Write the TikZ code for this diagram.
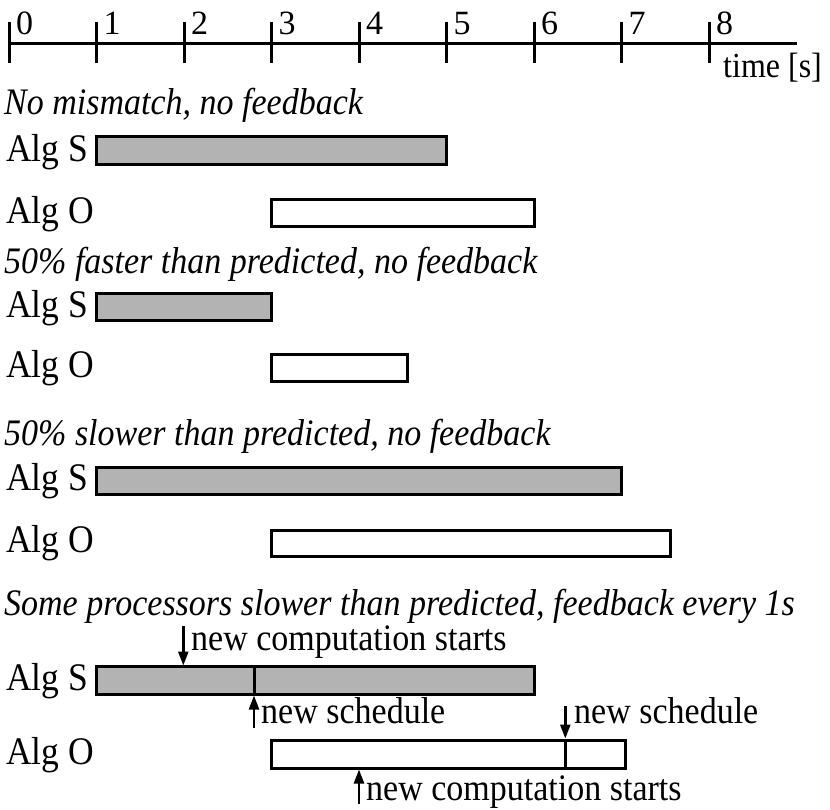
\documentclass[tikz,border=0pt]{standalone}
\usepackage{fontspec}
\usepackage{graphicx}
\setmainfont{Liberation Serif}
\usetikzlibrary{arrows.meta}
\definecolor{barfill}{RGB}{179,179,179}
\newcommand{\tx}[1]{\scalebox{1}[1.1]{#1}}
\begin{document}
\begin{tikzpicture}[x=1pt,y=-1pt,
  bx/.style={draw=black,line width=3pt},
  sbx/.style={bx,fill=barfill},
  obx/.style={bx,fill=white},
  lbl/.style={anchor=base west,inner sep=0pt,font=\fontsize{34}{40}\selectfont},
  alg/.style={anchor=base west,inner sep=0pt,font=\fontsize{35.5}{40}\selectfont},
  ttl/.style={anchor=base west,inner sep=0pt,font=\fontsize{34}{40}\selectfont\itshape},
  tck/.style={anchor=base west,inner sep=0pt,font=\fontsize{34}{40}\selectfont},
  unt/.style={anchor=base west,inner sep=0pt,font=\fontsize{32}{38}\selectfont},
  ann/.style={line width=2.5pt,-{Triangle[length=14pt,width=10pt]}},
  axl/.style={line width=3pt},
]
\useasboundingbox (0,0) rectangle (830,809);
% time axis
\coordinate (ax0) at (9,43);
\coordinate (ax1) at (797,43);
\draw[axl] (ax0) -- (ax1);
\foreach \i in {0,...,8}{
  \coordinate (tk\i a) at ({9+87.5*\i},22);
  \coordinate (tk\i b) at ({9+87.5*\i},63);
  \draw[axl] (tk\i a) -- (tk\i b);
  \node[tck] (t\i) at ({16+87.5*\i},34) {\i};
}
\node[unt] (unit) at (723,77) {\tx{time [s]}};

% scenario 1
\node[ttl] (h1) at (4,114) {\tx{No mismatch, no feedback}};
\node[alg] (s1) at (6,161) {\tx{Alg S}};
\draw[sbx] (96.5,136.7) rectangle (446.5,164);
\node[alg] (o1) at (6,223) {\tx{Alg O}};
\draw[obx] (271.5,199) rectangle (534,226.7);

% scenario 2
\node[ttl] (h2) at (4,273) {\tx{50\% faster than predicted, no feedback}};
\node[alg] (s2) at (6,317) {\tx{Alg S}};
\draw[sbx] (96.5,293) rectangle (271.5,320.7);
\node[alg] (o2) at (6,377) {\tx{Alg O}};
\draw[obx] (271.5,354.3) rectangle (407.3,381);

% scenario 3
\node[ttl] (h3) at (4,445) {\tx{50\% slower than predicted, no feedback}};
\node[alg] (s3) at (6,490) {\tx{Alg S}};
\draw[sbx] (96.5,467.3) rectangle (621.5,494);
\node[alg] (o3) at (6,552) {\tx{Alg O}};
\draw[obx] (271.5,530) rectangle (670,556.7);

% scenario 4
\node[ttl] (h4) at (4,615) {\tx{Some processors slower than predicted, feedback every 1s}};
\node[alg] (s4) at (6,690) {\tx{Alg S}};
\draw[sbx] (96.5,666.7) rectangle (534,694);
\coordinate (d1a) at (254,666.7);
\coordinate (d1b) at (254,694);
\draw[bx] (d1a) -- (d1b);
\node[alg] (o4) at (6,764) {\tx{Alg O}};
\draw[obx] (271.5,740) rectangle (625,768);
\coordinate (d2a) at (565.3,740);
\coordinate (d2b) at (565.3,768);
\draw[bx] (d2a) -- (d2b);

\node[lbl] (n1) at (191,650) {\tx{new computation starts}};
\coordinate (p1a) at (183.3,626);
\coordinate (p1b) at (183.3,665.5);
\draw[ann] (p1a) -- (p1b);

\node[lbl] (n2) at (261,723) {\tx{new schedule}};
\coordinate (p2a) at (254,728);
\coordinate (p2b) at (254,695.5);
\draw[ann] (p2a) -- (p2b);

\node[lbl] (n3) at (574,723) {\tx{new schedule}};
\coordinate (p3a) at (565.3,706);
\coordinate (p3b) at (565.3,738.5);
\draw[ann] (p3a) -- (p3b);

\node[lbl] (n4) at (366,800) {\tx{new computation starts}};
\coordinate (p4a) at (359,804);
\coordinate (p4b) at (359,769.5);
\draw[ann] (p4a) -- (p4b);
\end{tikzpicture}
\end{document}
